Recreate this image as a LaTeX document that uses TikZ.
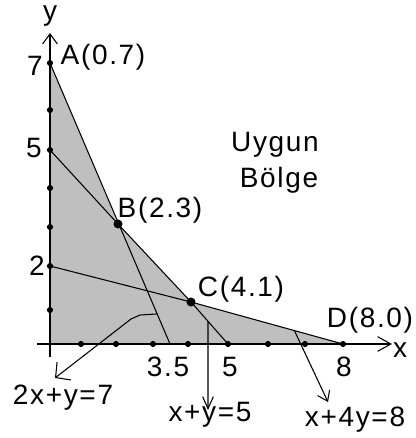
\documentclass[tikz,border=0pt]{standalone}
\usepackage{fontspec}
\setmainfont[LetterSpace=6]{Liberation Sans}
\usetikzlibrary{arrows.meta,calc}
\begin{document}
\begin{tikzpicture}[x=0.75pt,y=-0.75pt,
  region/.style={fill=black!25},
  cline/.style={line width=0.8pt,black},
  axis/.style={line width=1pt,black},
  dot/.style={circle,fill=black,inner sep=0pt,minimum size=4.6pt},
  bigdot/.style={circle,fill=black,inner sep=0pt,minimum size=6.8pt},
  lbl/.style={inner sep=0pt,font=\fontsize{21}{25}\selectfont},
  barb/.style={-{Straight Barb[length=8pt,width=12pt,line width=0.8pt]}}
]
\useasboundingbox (0,0) rectangle (415,438);
% key points
\coordinate (O) at (50,344);
\coordinate (A) at (50,63);
\coordinate (P5) at (50,150);
\coordinate (P2) at (50,266);
\coordinate (B) at (118,224);
\coordinate (C) at (191,302);
\coordinate (D) at (343,344);
\coordinate (X35) at (170,344);
\coordinate (X5) at (228,344);
% feasible region
\fill[region] (O) -- (A) -- (B) -- (C) -- (D) -- cycle;
% constraint lines
\draw[cline] (A) -- (X35);
\draw[cline] (P5) -- (B) -- (C) -- (X5);
\draw[cline] (P2) -- (C) -- (D);
% axes
\coordinate (ybot) at (50,357);
\coordinate (ytop) at (50,33);
\coordinate (xleft) at (37,344);
\coordinate (xright) at (392,344);
\draw[axis,-{Straight Barb[length=7.5pt,width=11pt,line width=0.8pt]}] (ybot) -- (ytop);
\draw[axis,-{Straight Barb[length=10pt,width=11pt,line width=0.8pt]}] (xleft) -- (xright);
% tick dots
\foreach \yy in {63,110,150,188,227,266,310}
  \node[dot] at (50,\yy) {};
\foreach \xx in {81,116,153,188,228,268,305,343}
  \node[dot] at (\xx,344) {};
\node[bigdot] (Bd) at (B) {};
\node[bigdot] (Cd) at (C) {};
% label arrows
\coordinate (s1) at ($(A)!0.893!(X35)$);
\coordinate (e1) at (55,378);
\draw[cline,-{Straight Barb[length=8pt,width=17pt,line width=0.8pt]}]
  (s1) -- (140,315) -- (131,319) -- (e1);
\coordinate (s2) at ($(C)!0.46!(X5)$);
\coordinate (e2) at (208,410);
\draw[cline,-{Straight Barb[length=9pt,width=8pt,line width=0.8pt]}] (s2) -- (e2);
\coordinate (s3) at ($(C)!0.68!(D)$);
\coordinate (e3) at (328,402);
\draw[cline,-{Straight Barb[length=7pt,width=10pt,line width=0.8pt]}] (s3) -- (e3);
% labels
\node[lbl] (ly) at (50,16) {y};
\node[lbl] (lx) at (400,350) {x};
\node[lbl] (l7) at (35,66) {7};
\node[lbl] (l5) at (34,148) {5};
\node[lbl] (l2) at (37,266) {2};
\node[lbl] (lA) at (103,57) {A(0.7)};
\node[lbl] (lB) at (160,210) {B(2.3)};
\node[lbl] (lC) at (241,289) {C(4.1)};
\node[lbl] (lD) at (370,320) {D(8.0)};
\node[lbl] (l35) at (168,367) {3.5};
\node[lbl] (lx5) at (230,367) {5};
\node[lbl] (lx8) at (344,367) {8};
\node[lbl] (lU) at (275,145) {Uygun};
\node[lbl] (lBo) at (279,180) {Bölge};
\node[lbl] (c1) at (63,398) {2x+y=7};
\node[lbl] (c2) at (210,415) {x+y=5};
\node[lbl] (c3) at (355,420) {x+4y=8};
\end{tikzpicture}
\end{document}
